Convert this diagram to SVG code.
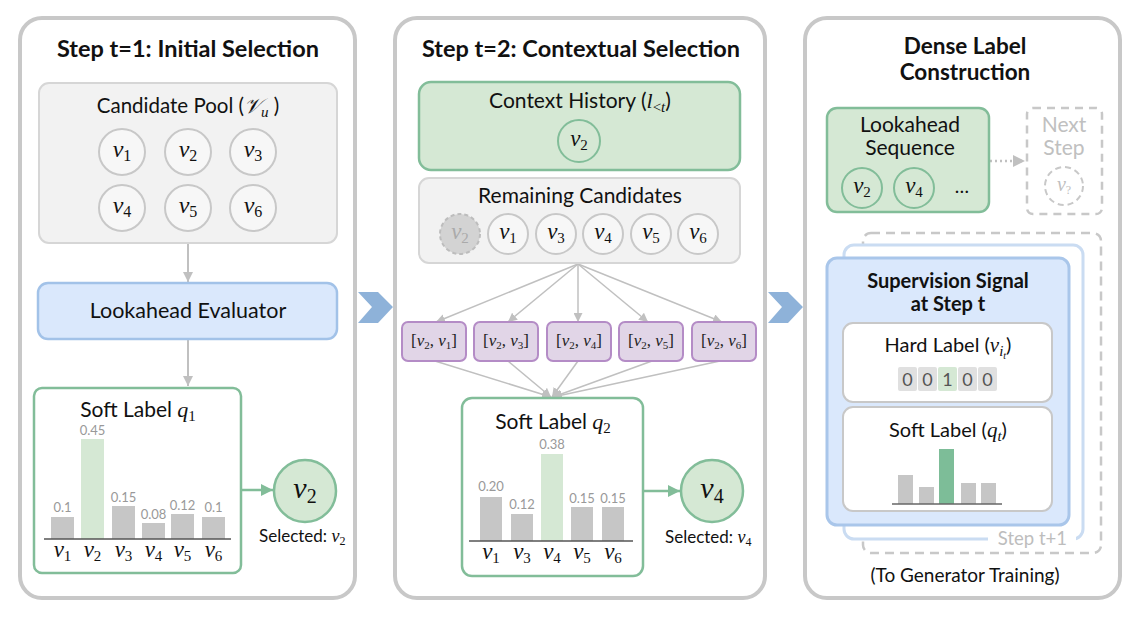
<svg xmlns="http://www.w3.org/2000/svg" width="1140" height="618" viewBox="0 0 1140 618">
<style>
.t{font-family:Lato,"Liberation Sans",sans-serif;fill:#111}
.b{font-weight:bold}
.m{font-family:"Liberation Serif",serif;font-style:italic;fill:#111}
.u{font-style:normal}
.panel{fill:#fff;stroke:#c8c8c8;stroke-width:4}
.gbox{fill:#f2f2f2;stroke:#d6d6d6;stroke-width:2}
.vc{fill:#f7f7f7;stroke:#c8c8c8;stroke-width:2}
.green{fill:#d5e8d4;stroke:#82bd99;stroke-width:2.5}
.wgreen{fill:#fff;stroke:#82bd99;stroke-width:2.5}
.blue{fill:#dae8fc;stroke:#a2c2e8;stroke-width:2.5}
.purple{fill:#e1d5e7;stroke:#b48cc6;stroke-width:2}
.bar{fill:#c6c6c6}
.gbar{fill:#d5e8d4}
.val{font-family:Lato,"Liberation Sans",sans-serif;font-size:13px;fill:#999;text-anchor:middle}
.axis{stroke:#555;stroke-width:1.5}
.conn{stroke:#c0c0c0;stroke-width:2;fill:none}
.fan{stroke:#c0c0c0;stroke-width:1.5;fill:none}
.chev{fill:#8eb2d9}
</style>
<defs>
<marker id="ag" viewBox="0 0 10 10" refX="10" refY="5" markerWidth="5" markerHeight="5" orient="auto" markerUnits="strokeWidth"><path d="M0,0L10,5L0,10z" fill="#c0c0c0"/></marker>
<marker id="af" viewBox="0 0 10 10" refX="10" refY="5" markerWidth="6" markerHeight="6" orient="auto" markerUnits="strokeWidth"><path d="M0,0L10,5L0,10z" fill="#c0c0c0"/></marker>
<marker id="agr" viewBox="0 0 10 10" refX="10" refY="5" markerWidth="5" markerHeight="5" orient="auto" markerUnits="strokeWidth"><path d="M0,0L10,5L0,10z" fill="#82bd99"/></marker>
<marker id="adot" viewBox="0 0 10 10" refX="10" refY="5" markerWidth="5" markerHeight="5" orient="auto" markerUnits="strokeWidth"><path d="M0,0L10,5L0,10z" fill="#c0c0c0"/></marker>
</defs>

<!-- panels -->
<g id="panel1"><rect class="panel" x="20" y="18" width="335" height="580" rx="22"/>
<text class="t b" x="188" y="57" font-size="23.5" text-anchor="middle">Step t=1: Initial Selection</text></g>
<g id="panel2"><rect class="panel" x="395" y="18" width="370" height="580" rx="22"/>
<text class="t b" x="581" y="57" font-size="23.5" text-anchor="middle">Step t=2: Contextual Selection</text></g>
<g id="panel3"><rect class="panel" x="805" y="18" width="315" height="580" rx="22"/>
<text class="t b" x="965" y="54" font-size="22.5" text-anchor="middle">Dense Label</text>
<text class="t b" x="965" y="80" font-size="22.5" text-anchor="middle">Construction</text></g>

<!-- chevrons -->
<g id="chevrons">
<polygon class="chev" points="358,292 378,292 393,307 378,323 358,323 372,307"/>
<polygon class="chev" points="768,292 788,292 803,307 788,323 768,323 782,307"/>
</g>

<!-- connectors -->
<g id="connectors">
<line class="conn" x1="188" y1="243" x2="188" y2="282" marker-end="url(#ag)"/>
<line class="conn" x1="188" y1="339" x2="188" y2="386" marker-end="url(#ag)"/>
<line x1="241" y1="490" x2="273" y2="490" style="stroke:#82bd99;stroke-width:2.5" marker-end="url(#agr)"/>
<line class="fan" x1="578" y1="264" x2="436" y2="322" marker-end="url(#af)"/>
<line class="fan" x1="578" y1="264" x2="508" y2="322" marker-end="url(#af)"/>
<line class="fan" x1="578" y1="264" x2="578" y2="322" marker-end="url(#af)"/>
<line class="fan" x1="578" y1="264" x2="648" y2="322" marker-end="url(#af)"/>
<line class="fan" x1="578" y1="264" x2="722" y2="322" marker-end="url(#af)"/>
<line class="fan" x1="435" y1="361" x2="551" y2="397" marker-end="url(#af)"/>
<line class="fan" x1="508" y1="361" x2="551" y2="397" marker-end="url(#af)"/>
<line class="fan" x1="578" y1="361" x2="552" y2="397" marker-end="url(#af)"/>
<line class="fan" x1="652" y1="361" x2="553" y2="397" marker-end="url(#af)"/>
<line class="fan" x1="720" y1="361" x2="553" y2="397" marker-end="url(#af)"/>
<line x1="643" y1="491" x2="680" y2="491" style="stroke:#82bd99;stroke-width:2.5" marker-end="url(#agr)"/>
<line x1="990" y1="161" x2="1025" y2="161" style="stroke:#c0c0c0;stroke-width:2.5;stroke-dasharray:2 3" marker-end="url(#adot)"/>
</g>

<!-- Candidate pool -->
<g id="candidate-pool">
<rect class="gbox" x="39" y="83" width="298" height="160" rx="10"/>
<text class="t" x="188" y="113" font-size="20.5" text-anchor="middle">Candidate Pool (<tspan class="m" font-size="21">𝒱</tspan><tspan class="m" font-size="15" dy="4">u</tspan><tspan dy="-4"> )</tspan></text>
<circle class="vc" cx="122" cy="152" r="23"/><circle class="vc" cx="188" cy="152" r="23"/><circle class="vc" cx="253" cy="152" r="23"/>
<circle class="vc" cx="122" cy="208" r="23"/><circle class="vc" cx="188" cy="208" r="23"/><circle class="vc" cx="253" cy="208" r="23"/>
<g class="m" font-size="24" text-anchor="middle">
<text x="122" y="157">v<tspan class="u" font-size="16" dy="4">1</tspan></text>
<text x="188" y="157">v<tspan class="u" font-size="16" dy="4">2</tspan></text>
<text x="253" y="157">v<tspan class="u" font-size="16" dy="4">3</tspan></text>
<text x="122" y="213">v<tspan class="u" font-size="16" dy="4">4</tspan></text>
<text x="188" y="213">v<tspan class="u" font-size="16" dy="4">5</tspan></text>
<text x="253" y="213">v<tspan class="u" font-size="16" dy="4">6</tspan></text>
</g>
</g>

<g id="lookahead-evaluator">
<rect class="blue" x="38" y="283" width="299" height="56" rx="10"/>
<text class="t" x="188" y="318" font-size="21.5" text-anchor="middle">Lookahead Evaluator</text>
</g>

<g id="soft-label-1">
<rect class="wgreen" x="34" y="388" width="207" height="185" rx="8"/>
<text class="t" x="138" y="417" font-size="21" text-anchor="middle">Soft Label <tspan class="m" font-size="22">q</tspan><tspan class="m u" font-size="15" dy="4">1</tspan></text>
<rect class="bar" x="51" y="517" width="23" height="22"/>
<rect class="gbar" x="81" y="439" width="23" height="100"/>
<rect class="bar" x="112" y="506" width="23" height="33"/>
<rect class="bar" x="142" y="523" width="23" height="16"/>
<rect class="bar" x="171" y="514" width="23" height="25"/>
<rect class="bar" x="202" y="517" width="23" height="22"/>
<line class="axis" x1="44" y1="539" x2="231" y2="539"/>
<text class="val" x="62.5" y="512">0.1</text>
<text class="val" x="92.5" y="435">0.45</text>
<text class="val" x="123.5" y="502">0.15</text>
<text class="val" x="153.5" y="519">0.08</text>
<text class="val" x="182.5" y="510">0.12</text>
<text class="val" x="213.5" y="512">0.1</text>
<g class="m" font-size="23" text-anchor="middle">
<text x="62.5" y="557">v<tspan class="u" font-size="15" dy="4">1</tspan></text>
<text x="92.5" y="557">v<tspan class="u" font-size="15" dy="4">2</tspan></text>
<text x="123.5" y="557">v<tspan class="u" font-size="15" dy="4">3</tspan></text>
<text x="153.5" y="557">v<tspan class="u" font-size="15" dy="4">4</tspan></text>
<text x="182.5" y="557">v<tspan class="u" font-size="15" dy="4">5</tspan></text>
<text x="213.5" y="557">v<tspan class="u" font-size="15" dy="4">6</tspan></text>
</g>
</g>

<g id="selected-1">
<circle class="green" cx="305" cy="491" r="31"/>
<text class="m" x="305" y="498" font-size="30" text-anchor="middle">v<tspan class="u" font-size="20" dy="5">2</tspan></text>
<text class="t" x="259" y="542" font-size="17">Selected: <tspan class="m" font-size="18">v</tspan><tspan class="m u" font-size="12" dy="3">2</tspan></text>
</g>

<!-- middle -->
<g id="context-history">
<rect class="green" x="419" y="82" width="321" height="88" rx="12"/>
<text class="t" x="580" y="108" font-size="21" text-anchor="middle">Context History (<tspan class="m" font-size="22">l</tspan><tspan class="m u" font-size="15" dy="4">&lt;</tspan><tspan class="m" font-size="15">t</tspan><tspan dy="-4">)</tspan></text>
<circle cx="579" cy="141" r="21" style="fill:#d5e8d4;stroke:#82bd99;stroke-width:2"/>
<text class="m" x="579" y="146" font-size="23" text-anchor="middle">v<tspan class="u" font-size="15" dy="4">2</tspan></text>
</g>

<g id="remaining-candidates">
<rect class="gbox" x="419" y="178" width="321" height="85" rx="10"/>
<text class="t" x="580" y="203" font-size="21" text-anchor="middle">Remaining Candidates</text>
<circle cx="460" cy="234" r="20" style="fill:#d3d3d3;stroke:#bdbdbd;stroke-width:2;stroke-dasharray:4 3"/>
<circle class="vc" cx="508" cy="234" r="20"/><circle class="vc" cx="556" cy="234" r="20"/><circle class="vc" cx="603" cy="234" r="20"/><circle class="vc" cx="651" cy="234" r="20"/><circle class="vc" cx="698" cy="234" r="20"/>
<g class="m" font-size="23" text-anchor="middle">
<text x="460" y="239" style="fill:#aaa">v<tspan class="u" font-size="15" dy="4">2</tspan></text>
<text x="508" y="239">v<tspan class="u" font-size="15" dy="4">1</tspan></text>
<text x="556" y="239">v<tspan class="u" font-size="15" dy="4">3</tspan></text>
<text x="603" y="239">v<tspan class="u" font-size="15" dy="4">4</tspan></text>
<text x="651" y="239">v<tspan class="u" font-size="15" dy="4">5</tspan></text>
<text x="698" y="239">v<tspan class="u" font-size="15" dy="4">6</tspan></text>
</g>
</g>

<g id="pairs">
<rect class="purple" x="402" y="322" width="64" height="39" rx="6"/>
<rect class="purple" x="474" y="322" width="64" height="39" rx="6"/>
<rect class="purple" x="547" y="322" width="64" height="39" rx="6"/>
<rect class="purple" x="619" y="322" width="64" height="39" rx="6"/>
<rect class="purple" x="692" y="322" width="64" height="39" rx="6"/>
<g font-family="Liberation Serif,serif" font-size="17" text-anchor="middle" fill="#222">
<text x="434" y="346">[<tspan font-style="italic">v</tspan><tspan font-size="11" dy="3">2</tspan><tspan dy="-3">, </tspan><tspan font-style="italic">v</tspan><tspan font-size="11" dy="3">1</tspan><tspan dy="-3">]</tspan></text>
<text x="506" y="346">[<tspan font-style="italic">v</tspan><tspan font-size="11" dy="3">2</tspan><tspan dy="-3">, </tspan><tspan font-style="italic">v</tspan><tspan font-size="11" dy="3">3</tspan><tspan dy="-3">]</tspan></text>
<text x="579" y="346">[<tspan font-style="italic">v</tspan><tspan font-size="11" dy="3">2</tspan><tspan dy="-3">, </tspan><tspan font-style="italic">v</tspan><tspan font-size="11" dy="3">4</tspan><tspan dy="-3">]</tspan></text>
<text x="651" y="346">[<tspan font-style="italic">v</tspan><tspan font-size="11" dy="3">2</tspan><tspan dy="-3">, </tspan><tspan font-style="italic">v</tspan><tspan font-size="11" dy="3">5</tspan><tspan dy="-3">]</tspan></text>
<text x="724" y="346">[<tspan font-style="italic">v</tspan><tspan font-size="11" dy="3">2</tspan><tspan dy="-3">, </tspan><tspan font-style="italic">v</tspan><tspan font-size="11" dy="3">6</tspan><tspan dy="-3">]</tspan></text>
</g>
</g>

<g id="soft-label-2">
<rect class="wgreen" x="462" y="398" width="181" height="178" rx="10"/>
<text class="t" x="553" y="429" font-size="21" text-anchor="middle">Soft Label <tspan class="m" font-size="22">q</tspan><tspan class="m u" font-size="15" dy="4">2</tspan></text>
<rect class="bar" x="480" y="497" width="22" height="44"/>
<rect class="bar" x="511" y="514" width="22" height="27"/>
<rect class="gbar" x="541" y="454" width="22" height="87"/>
<rect class="bar" x="571" y="507" width="22" height="34"/>
<rect class="bar" x="602" y="507" width="22" height="34"/>
<line class="axis" x1="469" y1="541" x2="633" y2="541"/>
<text class="val" x="491" y="491">0.20</text>
<text class="val" x="522" y="509">0.12</text>
<text class="val" x="552" y="449">0.38</text>
<text class="val" x="582" y="503">0.15</text>
<text class="val" x="613" y="503">0.15</text>
<g class="m" font-size="23" text-anchor="middle">
<text x="491" y="559">v<tspan class="u" font-size="15" dy="4">1</tspan></text>
<text x="522" y="559">v<tspan class="u" font-size="15" dy="4">3</tspan></text>
<text x="552" y="559">v<tspan class="u" font-size="15" dy="4">4</tspan></text>
<text x="582" y="559">v<tspan class="u" font-size="15" dy="4">5</tspan></text>
<text x="613" y="559">v<tspan class="u" font-size="15" dy="4">6</tspan></text>
</g>
</g>

<g id="selected-2">
<circle class="green" cx="712" cy="491" r="31"/>
<text class="m" x="712" y="498" font-size="30" text-anchor="middle">v<tspan class="u" font-size="20" dy="5">4</tspan></text>
<text class="t" x="665" y="543" font-size="17">Selected: <tspan class="m" font-size="18">v</tspan><tspan class="m u" font-size="12" dy="3">4</tspan></text>
</g>

<!-- right -->
<g id="lookahead-sequence">
<rect class="green" x="827" y="108" width="162" height="104" rx="10"/>
<text class="t" x="910" y="132" font-size="21" text-anchor="middle">Lookahead</text>
<text class="t" x="910" y="155" font-size="21" text-anchor="middle">Sequence</text>
<circle cx="862" cy="188" r="20" style="fill:#d5e8d4;stroke:#82bd99;stroke-width:2"/>
<circle cx="914" cy="188" r="20" style="fill:#d5e8d4;stroke:#82bd99;stroke-width:2"/>
<text class="m" x="862" y="193" font-size="23" text-anchor="middle">v<tspan class="u" font-size="15" dy="4">2</tspan></text>
<text class="m" x="914" y="193" font-size="23" text-anchor="middle">v<tspan class="u" font-size="15" dy="4">4</tspan></text>
<text class="t" x="962" y="193" font-size="19" text-anchor="middle">…</text>
</g>

<g id="next-step">
<rect x="1027" y="108" width="75" height="106" rx="6" style="fill:#fff;stroke:#c8c8c8;stroke-width:2.5;stroke-dasharray:8 6"/>
<text class="t" x="1064" y="132" font-size="21" text-anchor="middle" style="fill:#c0c0c0">Next</text>
<text class="t" x="1064" y="155" font-size="21" text-anchor="middle" style="fill:#c0c0c0">Step</text>
<circle cx="1064" cy="186" r="19" style="fill:#fff;stroke:#c8c8c8;stroke-width:2;stroke-dasharray:6 4"/>
<text class="m" x="1064" y="191" font-size="20" text-anchor="middle" style="fill:#c0c0c0">v<tspan class="u" font-size="12" dy="3">?</tspan></text>
</g>

<g id="step-t1">
<rect x="863" y="233" width="238" height="320" rx="8" style="fill:#fff;stroke:#c8c8c8;stroke-width:2.5;stroke-dasharray:9 6"/>
<rect x="844" y="245" width="239" height="294" rx="10" style="fill:#fff;stroke:#cadcf2;stroke-width:3"/>
<rect x="988" y="530" width="88" height="20" fill="#fff"/>
<text class="t" x="1067" y="545" font-size="18.5" text-anchor="end" style="fill:#bdbdbd">Step t+1</text>
</g>

<g id="supervision-signal">
<rect x="827" y="258" width="242" height="267" rx="10" style="fill:#dae8fc;stroke:#a9c6ea;stroke-width:3"/>
<text class="t b" x="948" y="288" font-size="20" text-anchor="middle">Supervision Signal</text>
<text class="t b" x="948" y="311" font-size="20" text-anchor="middle">at Step t</text>
</g>

<g id="hard-label">
<rect x="843" y="323" width="209" height="79" rx="10" style="fill:#fff;stroke:#c8c8c8;stroke-width:2"/>
<text class="t" x="948" y="352" font-size="20" text-anchor="middle">Hard Label (<tspan class="m" font-size="21">v</tspan><tspan class="m" font-size="15" dy="4">i</tspan><tspan class="m" font-size="10" dy="3">t</tspan><tspan dy="-7">)</tspan></text>
<rect x="898" y="367" width="19" height="24" rx="2" fill="#e0e0e0"/>
<rect x="918" y="367" width="19" height="24" rx="2" fill="#e0e0e0"/>
<rect x="938" y="367" width="19" height="24" rx="2" fill="#d5e8d4"/>
<rect x="958" y="367" width="19" height="24" rx="2" fill="#e0e0e0"/>
<rect x="978" y="367" width="19" height="24" rx="2" fill="#e0e0e0"/>
<g class="t" font-size="18" text-anchor="middle" style="fill:#555">
<text x="907.5" y="386">0</text><text x="927.5" y="386">0</text><text x="947.5" y="386">1</text><text x="967.5" y="386">0</text><text x="987.5" y="386">0</text>
</g>
</g>

<g id="soft-label-t">
<rect x="843" y="407" width="209" height="104" rx="10" style="fill:#fff;stroke:#c8c8c8;stroke-width:2"/>
<text class="t" x="948" y="437" font-size="20" text-anchor="middle">Soft Label (<tspan class="m" font-size="21">q</tspan><tspan class="m" font-size="15" dy="4">t</tspan><tspan dy="-4">)</tspan></text>
<rect class="bar" x="898" y="475" width="15" height="29"/>
<rect class="bar" x="919" y="487" width="15" height="17"/>
<rect x="939" y="449" width="15" height="55" fill="#7dbd98"/>
<rect class="bar" x="961" y="483" width="15" height="21"/>
<rect class="bar" x="981" y="483" width="15" height="21"/>
<line x1="892" y1="504" x2="1002" y2="504" style="stroke:#666;stroke-width:1.5"/>
</g>

<text id="to-generator" class="t" x="965" y="582" font-size="19" text-anchor="middle">(To Generator Training)</text>
</svg>
